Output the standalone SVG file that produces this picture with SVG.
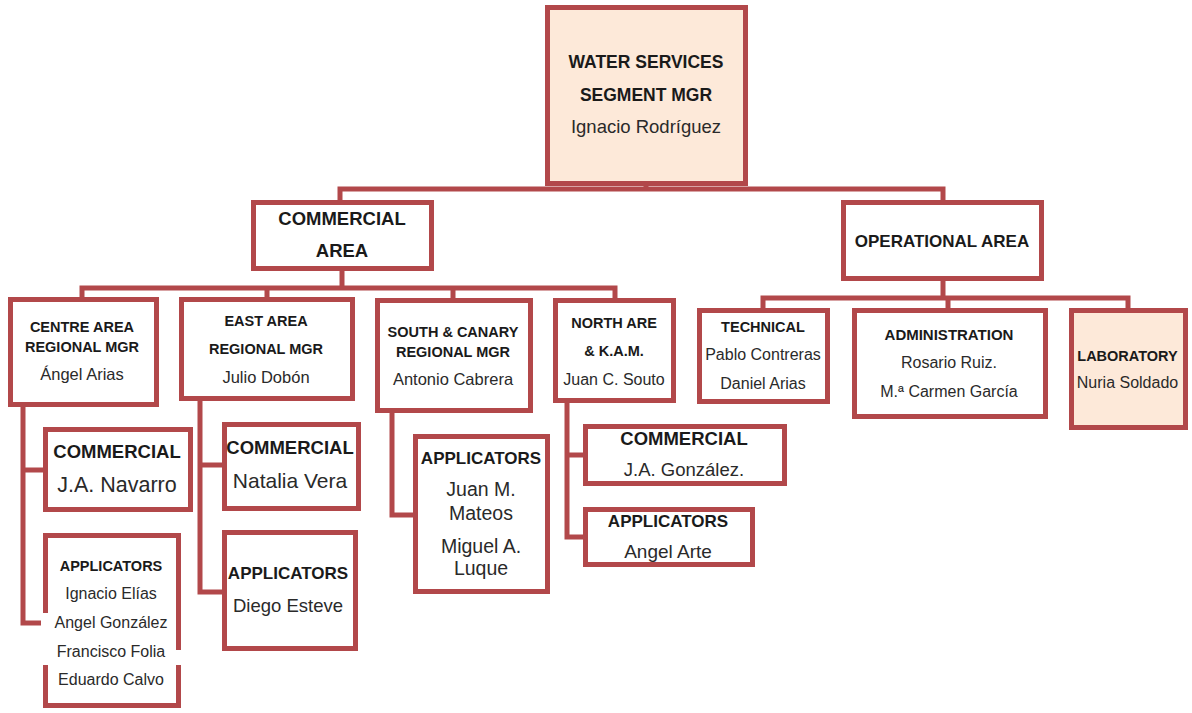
<svg xmlns="http://www.w3.org/2000/svg" width="1192" height="713" viewBox="0 0 1192 713">
  <style>
    .box { fill: #ffffff; stroke: #b2484a; stroke-width: 5; }
    .hl { fill: #fde9d9; }
    .wire { fill: none; stroke: #b2484a; stroke-width: 5; stroke-linejoin: miter; }
    text { font-family: "Liberation Sans", Arial, sans-serif; text-anchor: middle; }
    .b { font-weight: bold; fill: #1a1a1a; }
    .r { fill: #2a2a2a; }
    .mask { fill: #ffffff; }
  </style>

  <rect width="1192" height="713" fill="#ffffff"/>

  <!-- connectors -->
  <g id="connectors" class="wire">
    <!-- top level -->
    <path d="M646 186 V189 M340 201 V189 H943 V201"/>
    <!-- commercial area to regional managers -->
    <path d="M342 271 V288 M82 298 V288 H615 V298 M267 288 V298 M453 288 V299"/>
    <!-- operational area to departments -->
    <path d="M943 281 V298 M763 309 V298 H1128 V309 M948 298 V309"/>
    <!-- centre area -->
    <path d="M23 407 V623 H45 M23 470 H45"/>
    <!-- east area -->
    <path d="M200 401 V592 H224 M200 465 H224"/>
    <!-- south & canary -->
    <path d="M392 413 V515 H415"/>
    <!-- north & K.A.M. -->
    <path d="M567 403 V537 H585 M567 455 H585"/>
  </g>

  <!-- top manager -->
  <g id="segment-mgr">
    <rect class="box hl" x="547.5" y="7.5" width="198" height="176"/>
    <text class="b" x="646" y="68" font-size="17.5">WATER SERVICES</text>
    <text class="b" x="646" y="101" font-size="17.5">SEGMENT MGR</text>
    <text class="r" x="646" y="133" font-size="18.5">Ignacio Rodríguez</text>
  </g>

  <g id="commercial-area">
    <rect class="box" x="253.5" y="202.5" width="178" height="66"/>
    <text class="b" x="342" y="225" font-size="18.5">COMMERCIAL</text>
    <text class="b" x="342" y="257" font-size="18.5">AREA</text>
  </g>

  <g id="operational-area">
    <rect class="box" x="843.5" y="202.5" width="198" height="76"/>
    <text class="b" x="942" y="247" font-size="17">OPERATIONAL AREA</text>
  </g>

  <!-- regional managers -->
  <g id="centre-area">
    <rect class="box" x="10.5" y="299.5" width="146" height="105"/>
    <text class="b" x="82" y="332" font-size="14.5">CENTRE AREA</text>
    <text class="b" x="82" y="352" font-size="14.5">REGIONAL MGR</text>
    <text class="r" x="82" y="380" font-size="16.5">Ángel Arias</text>
  </g>

  <g id="east-area">
    <rect class="box" x="181.5" y="299.5" width="171" height="99"/>
    <text class="b" x="266" y="326" font-size="14.5">EAST AREA</text>
    <text class="b" x="266" y="354" font-size="14.5">REGIONAL MGR</text>
    <text class="r" x="266" y="383" font-size="16.5">Julio Dobón</text>
  </g>

  <g id="south-canary">
    <rect class="box" x="377.5" y="300.5" width="153" height="110"/>
    <text class="b" x="453" y="337" font-size="14.5">SOUTH &amp; CANARY</text>
    <text class="b" x="453" y="357" font-size="14.5">REGIONAL MGR</text>
    <text class="r" x="453" y="385" font-size="16.5">Antonio Cabrera</text>
  </g>

  <g id="north-kam">
    <rect class="box" x="555.5" y="300.5" width="118" height="100"/>
    <text class="b" x="614" y="328" font-size="14.5">NORTH ARE</text>
    <text class="b" x="614" y="356" font-size="14.5">&amp; K.A.M.</text>
    <text class="r" x="614" y="385" font-size="16">Juan C. Souto</text>
  </g>

  <!-- operational departments -->
  <g id="technical">
    <rect class="box" x="699.5" y="310.5" width="128" height="91"/>
    <text class="b" x="763" y="332" font-size="14.5">TECHNICAL</text>
    <text class="r" x="763" y="360" font-size="16">Pablo Contreras</text>
    <text class="r" x="763" y="389" font-size="16">Daniel Arias</text>
  </g>

  <g id="administration">
    <rect class="box" x="854.5" y="310.5" width="191" height="106"/>
    <text class="b" x="949" y="340" font-size="15">ADMINISTRATION</text>
    <text class="r" x="949" y="368" font-size="16">Rosario Ruiz.</text>
    <text class="r" x="949" y="397" font-size="16">M.ª Carmen García</text>
  </g>

  <g id="laboratory">
    <rect class="box hl" x="1071.5" y="310.5" width="114" height="117"/>
    <text class="b" x="1127.5" y="361" font-size="14.5">LABORATORY</text>
    <text class="r" x="1127.5" y="388" font-size="16">Nuria Soldado</text>
  </g>

  <!-- centre area staff -->
  <g id="centre-commercial">
    <rect class="box" x="45.5" y="429.5" width="145" height="80"/>
    <text class="b" x="117" y="458" font-size="18.5">COMMERCIAL</text>
    <text class="r" x="117" y="492" font-size="21.5">J.A. Navarro</text>
  </g>

  <g id="centre-applicators">
    <rect class="box" x="45.5" y="535.5" width="133" height="170"/>
    <rect class="mask" x="41" y="613" width="9" height="52"/>
    <rect class="mask" x="174" y="650" width="9" height="15"/>
    <text class="b" x="111" y="571" font-size="14.5">APPLICATORS</text>
    <text class="r" x="111" y="599" font-size="16">Ignacio Elías</text>
    <text class="r" x="111" y="628" font-size="16">Angel González</text>
    <text class="r" x="111" y="657" font-size="16">Francisco Folia</text>
    <text class="r" x="111" y="685" font-size="16">Eduardo Calvo</text>
  </g>

  <!-- east area staff -->
  <g id="east-commercial">
    <rect class="box" x="224.5" y="424.5" width="134" height="84"/>
    <text class="b" x="290" y="454" font-size="18.5">COMMERCIAL</text>
    <text class="r" x="290" y="488" font-size="21">Natalia Vera</text>
  </g>

  <g id="east-applicators">
    <rect class="box" x="224.5" y="532.5" width="131" height="116"/>
    <text class="b" x="288" y="579" font-size="17">APPLICATORS</text>
    <text class="r" x="288" y="612" font-size="18.5">Diego Esteve</text>
  </g>

  <!-- south & canary staff -->
  <g id="south-applicators">
    <rect class="box" x="415.5" y="436.5" width="132" height="155"/>
    <text class="b" x="481" y="464" font-size="17">APPLICATORS</text>
    <text class="r" x="481" y="496" font-size="19.5">Juan M.</text>
    <text class="r" x="481" y="520" font-size="19.5">Mateos</text>
    <text class="r" x="481" y="553" font-size="19.5">Miguel A.</text>
    <text class="r" x="481" y="575" font-size="19.5">Luque</text>
  </g>

  <!-- north & K.A.M. staff -->
  <g id="north-commercial">
    <rect class="box" x="585.5" y="426.5" width="199" height="57"/>
    <text class="b" x="684" y="445" font-size="18.5">COMMERCIAL</text>
    <text class="r" x="684" y="476" font-size="18.5">J.A. González.</text>
  </g>

  <g id="north-applicators">
    <rect class="box" x="585.5" y="509.5" width="167" height="55"/>
    <text class="b" x="668" y="527" font-size="17">APPLICATORS</text>
    <text class="r" x="668" y="558" font-size="19">Angel Arte</text>
  </g>
</svg>
